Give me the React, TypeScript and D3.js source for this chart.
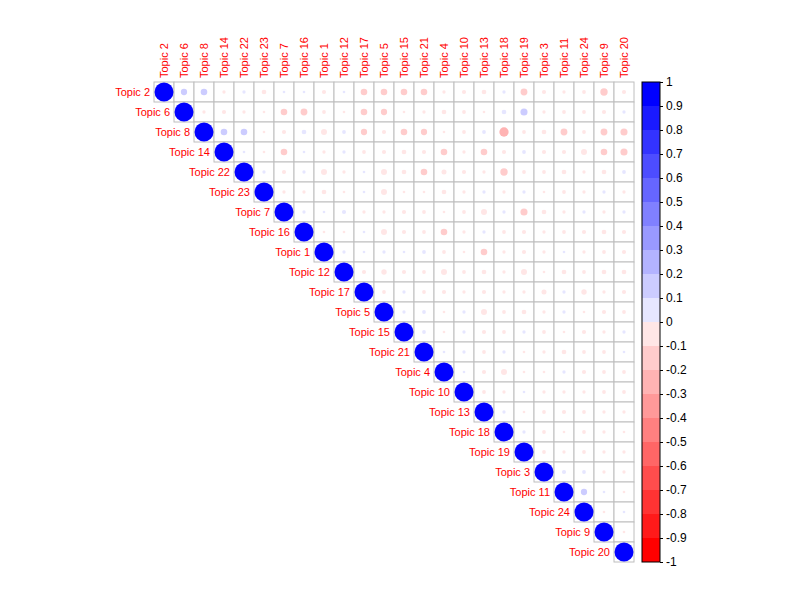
import React, { useEffect, useRef } from 'react';
import * as d3 from 'd3';

// topic order (same for rows and columns)
const topics = [
  'Topic 2', 'Topic 6', 'Topic 8', 'Topic 14', 'Topic 22', 'Topic 23', 'Topic 7', 'Topic 16',
  'Topic 1', 'Topic 12', 'Topic 17', 'Topic 5', 'Topic 15', 'Topic 21', 'Topic 4', 'Topic 10',
  'Topic 13', 'Topic 18', 'Topic 19', 'Topic 3', 'Topic 11', 'Topic 24', 'Topic 9', 'Topic 20',
];

// upper triangle, row i holds correlations with columns i+1 .. end
const upperRows: number[][] = [
  [0.11, 0.12, -0.03, 0.03, -0.06, 0.02, 0.02, -0.05, 0.02, -0.12, -0.12, -0.12, -0.12, -0.03, -0.05, -0.06, 0.03, -0.13, -0.05, -0.03, -0.04, -0.15, -0.05],
  [-0.03, -0.05, -0.03, -0.02, -0.12, -0.13, -0.04, -0.02, -0.12, -0.11, -0.02, -0.03, -0.06, -0.04, -0.02, 0.06, 0.14, -0.03, -0.04, -0.04, -0.05, 0.03],
  [0.12, 0.12, -0.02, -0.05, 0.06, -0.1, 0.04, -0.11, -0.05, -0.12, -0.11, -0.02, -0.04, 0.04, -0.24, -0.04, -0.06, -0.13, -0.04, -0.13, -0.14],
  [0.02, -0.02, -0.12, 0.02, -0.03, 0.03, -0.04, -0.05, -0.06, -0.05, -0.12, -0.03, -0.12, -0.05, 0.04, -0.05, -0.05, -0.1, -0.12, -0.14],
  [0.03, -0.05, 0.03, -0.1, -0.03, 0.02, -0.1, -0.06, -0.12, -0.07, -0.05, -0.03, -0.15, -0.04, -0.04, -0.06, -0.03, -0.06, 0.04],
  [-0.03, -0.03, -0.06, -0.02, 0.02, -0.1, -0.02, -0.02, -0.06, -0.03, 0.03, -0.03, 0.03, -0.02, -0.04, -0.03, 0.03, -0.03],
  [0.03, 0.02, 0.05, -0.03, -0.03, -0.05, -0.04, -0.02, -0.04, -0.1, 0.03, -0.14, -0.06, -0.03, 0.03, -0.03, 0.03],
  [-0.02, -0.02, 0.02, -0.1, -0.05, -0.04, -0.12, -0.03, 0.03, -0.04, -0.05, -0.03, -0.04, -0.05, -0.06, -0.05],
  [0.03, 0.02, 0.03, 0.02, 0.04, -0.04, -0.02, -0.12, -0.03, -0.05, -0.03, 0.02, -0.03, -0.04, -0.05],
  [-0.05, -0.08, -0.05, -0.04, -0.1, -0.04, -0.06, -0.03, -0.1, -0.02, -0.06, -0.04, -0.06, -0.06],
  [-0.04, 0.03, -0.04, -0.05, -0.03, -0.05, -0.03, -0.03, -0.07, 0.03, -0.08, -0.03, -0.05],
  [0.03, 0.04, -0.02, 0.03, -0.1, -0.04, -0.06, -0.03, 0.03, -0.02, -0.05, -0.04],
  [0.04, -0.02, 0.03, -0.05, -0.04, 0.03, -0.04, -0.02, -0.05, -0.03, 0.03],
  [0.02, 0.03, -0.04, 0.03, -0.02, -0.03, -0.06, -0.04, -0.04, 0.02],
  [0.02, -0.05, -0.1, -0.02, -0.02, 0.03, -0.05, -0.04, -0.04],
  [-0.04, -0.03, 0.02, -0.03, -0.03, -0.03, -0.04, -0.04],
  [0.03, -0.02, -0.04, -0.05, -0.04, -0.03, -0.03],
  [0.03, -0.04, -0.02, -0.04, -0.03, -0.02],
  [-0.04, -0.03, -0.04, -0.03, -0.03],
  [0.05, 0.04, -0.03, -0.03],
  [0.11, 0.02, -0.02],
  [-0.02, 0.02],
  [-0.02],
  [],
];

const legendTicks = d3.range(-10, 11).map((d) => d / 10);

export default function App() {
  const svgRef = useRef<SVGSVGElement>(null);

  useEffect(() => {
    if (!svgRef.current) return;
    const svg = d3.select(svgRef.current);
    svg.selectAll('*').remove();

    const font = '"Liberation Sans", Arial, sans-serif';
    const x = d3.scaleBand<string>().domain(topics).range([154, 634]);
    const y = d3.scaleBand<string>().domain(topics).range([82, 562]);
    const bw = x.bandwidth();

    // 20 colour bins; each bin takes the colour of its outer edge
    const toRed = d3.interpolateRgb('#FFFFFF', '#FF0000');
    const toBlue = d3.interpolateRgb('#FFFFFF', '#0000FF');
    const palette = d3.range(20).map((i) => (i < 10 ? toRed((10 - i) / 10) : toBlue((i - 9) / 10)));
    const color = d3.scaleQuantize<string>().domain([-1, 1]).range(palette);
    const radius = d3.scaleSqrt().domain([0, 1]).range([0, bw * 0.475]);

    // flatten into cells
    const cells: { i: number; j: number; v: number }[] = [];
    topics.forEach((_, i) => {
      cells.push({ i, j: i, v: 1 });
      upperRows[i].forEach((v, k) => cells.push({ i, j: i + 1 + k, v }));
    });

    const g = svg.append('g');

    g.selectAll('.cell')
      .data(cells)
      .enter()
      .append('rect')
      .attr('class', 'cell')
      .attr('x', (d) => x(topics[d.j])!)
      .attr('y', (d) => y(topics[d.i])!)
      .attr('width', bw)
      .attr('height', bw)
      .attr('fill', 'white')
      .attr('stroke', '#BEBEBE')
      .attr('stroke-width', 1);

    g.selectAll('.dot')
      .data(cells)
      .enter()
      .append('circle')
      .attr('class', 'dot')
      .attr('cx', (d) => x(topics[d.j])! + bw / 2)
      .attr('cy', (d) => y(topics[d.i])! + bw / 2)
      .attr('r', (d) => radius(Math.abs(d.v)))
      .attr('fill', (d) => color(d.v));

    // row labels next to the diagonal
    g.selectAll('.rowlab')
      .data(topics)
      .enter()
      .append('text')
      .attr('x', (d) => x(d)! - 4)
      .attr('y', (d) => y(d)! + bw / 2)
      .attr('dy', '0.35em')
      .attr('text-anchor', 'end')
      .attr('fill', 'red')
      .attr('font-size', '11px')
      .attr('font-family', font)
      .text((d) => d);

    // column labels on top, rotated
    g.selectAll('.collab')
      .data(topics)
      .enter()
      .append('text')
      .attr('transform', (d) => `translate(${x(d)! + bw / 2}, 78) rotate(-90)`)
      .attr('dy', '0.35em')
      .attr('text-anchor', 'start')
      .attr('fill', 'red')
      .attr('font-size', '11px')
      .attr('font-family', font)
      .text((d) => d);

    // colour legend
    const ly = d3.scaleLinear().domain([-1, 1]).range([562, 82]);
    const lx = 642;
    const lw = 18;
    const bins = d3.range(20).map((i) => ({ lo: -1 + i * 0.1, hi: -1 + (i + 1) * 0.1, c: palette[i] }));
    g.selectAll('.bin')
      .data(bins)
      .enter()
      .append('rect')
      .attr('x', lx)
      .attr('y', (d) => ly(d.hi))
      .attr('width', lw)
      .attr('height', (d) => ly(d.lo) - ly(d.hi))
      .attr('fill', (d) => d.c);
    g.append('rect')
      .attr('x', lx)
      .attr('y', ly(1))
      .attr('width', lw)
      .attr('height', ly(-1) - ly(1))
      .attr('fill', 'none')
      .attr('stroke', 'black')
      .attr('stroke-width', 1);

    const axis = g
      .append('g')
      .attr('transform', `translate(${lx + lw}, 0)`)
      .call(
        d3
          .axisRight(ly)
          .tickValues(legendTicks)
          .tickSize(3)
          .tickPadding(3)
          .tickFormat((d) => String(+(d as number).toFixed(1)))
      );
    axis.select('.domain').remove();
    axis.selectAll('.tick line').attr('stroke', 'black');
    axis
      .selectAll('text')
      .attr('fill', 'black')
      .attr('font-size', '12px')
      .attr('font-family', font);
  }, []);

  return (
    <svg
      ref={svgRef}
      width={800}
      height={600}
      style={{ position: 'absolute', left: 0, top: 0, background: 'white' }}
    />
  );
}
